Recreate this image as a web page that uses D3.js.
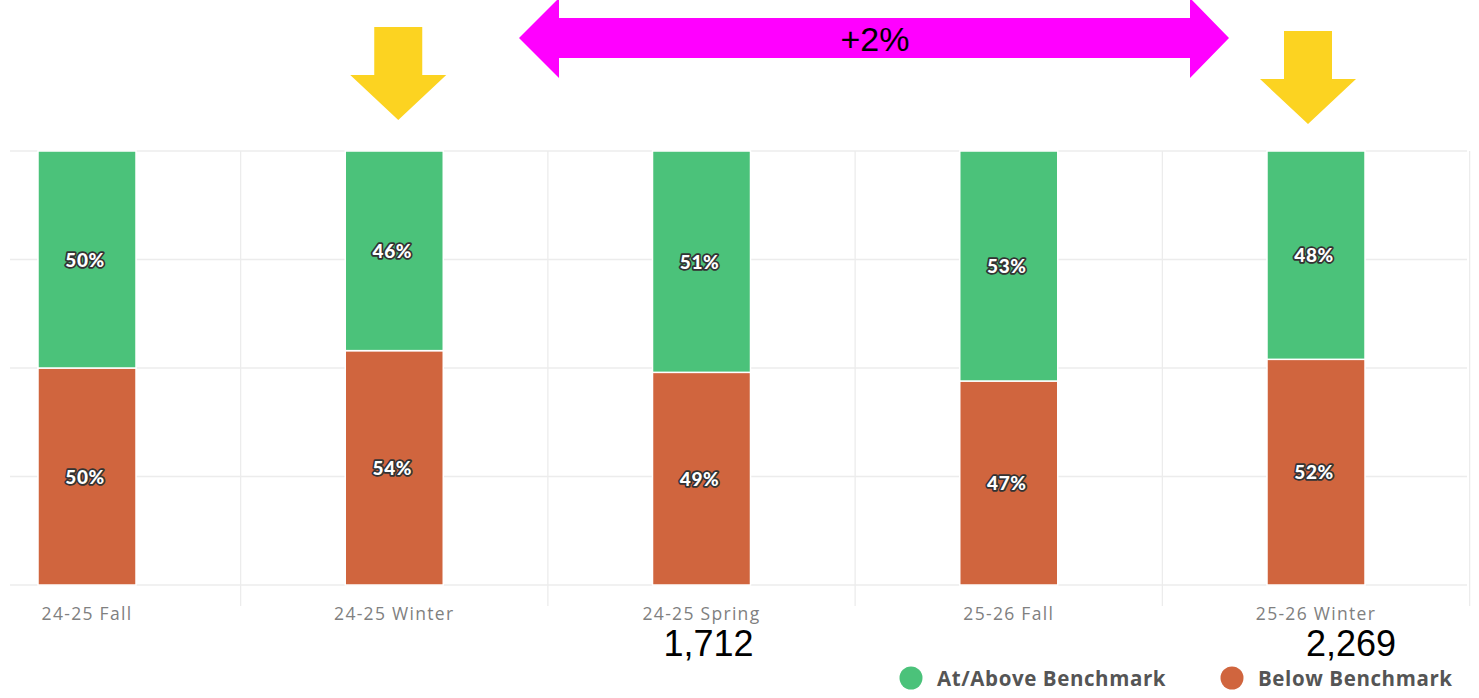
<html>
<head>
<meta charset="utf-8">
<title>Benchmark</title>
<style>
  body { margin: 0; background: #fff; }
  svg { display: block; }
</style>
</head>
<body>
<svg id="chart" width="1479" height="698"></svg>
<script src="https://cdnjs.cloudflare.com/ajax/libs/d3/7.8.5/d3.min.js"></script>
<script>
var categories = ["24-25 Fall", "24-25 Winter", "24-25 Spring", "25-26 Fall", "25-26 Winter"];
var aboveVals = [50, 46, 51, 53, 48];
var belowVals = [50, 54, 49, 47, 52];
var yTicks = [0, 25, 50, 75, 100];
var seriesNames = ["At/Above Benchmark", "Below Benchmark"];
var countLabels = [{cat: "24-25 Spring", text: "1,712", dx: 7}, {cat: "25-26 Winter", text: "2,269", dx: 35}];
var arrowCats = ["24-25 Winter", "25-26 Winter"];

var svg = d3.select("#chart");
var green = "#4bc27a", orange = "#d0653e";

var x = d3.scalePoint().domain(categories).range([87, 1316]);
var step = x.step();
var y = d3.scaleLinear().domain([0, 100]).range([585, 151]);
var barW = 98;

var rows = categories.map(function (c, i) { return {cat: c, below: belowVals[i], above: aboveVals[i]}; });
var stack = d3.stack().keys(["below", "above"])(rows);

// grid
var grid = svg.append("g");
grid.selectAll("line.h").data(yTicks).enter().append("line")
  .attr("x1", 10).attr("x2", 1467)
  .attr("y1", function (d) { return y(d); }).attr("y2", function (d) { return y(d); })
  .attr("stroke", "#ececec").attr("stroke-width", 1.3);
grid.selectAll("line.v").data(categories).enter().append("line")
  .attr("x1", function (d) { return x(d) + step / 2; })
  .attr("x2", function (d) { return x(d) + step / 2; })
  .attr("y1", y(100)).attr("y2", 606)
  .attr("stroke", "#ececec").attr("stroke-width", 1.3);

// bars
var colors = {below: orange, above: green};
stack.forEach(function (layer) {
  svg.append("g").selectAll("rect").data(layer).enter().append("rect")
    .attr("x", function (d) { return x(d.data.cat) - barW / 2; })
    .attr("width", barW)
    .attr("y", function (d) { return y(d[1]); })
    .attr("height", function (d) { return y(d[0]) - y(d[1]); })
    .attr("fill", colors[layer.key])
    .attr("stroke", "#fff").attr("stroke-width", 1.5);

  svg.append("g").selectAll("text").data(layer).enter().append("text")
    .attr("x", function (d) { return x(d.data.cat) - 2; })
    .attr("y", function (d) { return (y(d[0]) + y(d[1])) / 2 + 7; })
    .attr("text-anchor", "middle")
    .attr("font-family", "Lato, 'Open Sans', sans-serif")
    .attr("font-weight", "900").attr("font-size", 19)
    .attr("letter-spacing", 0.5)
    .attr("fill", "#fff").attr("stroke", "#333").attr("stroke-width", 3.5)
    .attr("paint-order", "stroke").attr("stroke-linejoin", "round")
    .text(function (d) { return d.data[layer.key] + "%"; });
});

// x axis labels
svg.append("g").selectAll("text").data(categories).enter().append("text")
  .attr("x", function (d) { return x(d); })
  .attr("y", 620)
  .attr("text-anchor", "middle")
  .attr("font-family", "'Open Sans', sans-serif")
  .attr("font-size", 17.5).attr("letter-spacing", 1.3).attr("fill", "#808080")
  .text(function (d) { return d; });

// counts
svg.append("g").selectAll("text").data(countLabels).enter().append("text")
  .attr("x", function (d) { return x(d.cat) + d.dx; })
  .attr("y", 656)
  .attr("text-anchor", "middle")
  .attr("font-family", "'Liberation Sans', Arial, sans-serif")
  .attr("font-size", 36).attr("fill", "#000")
  .text(function (d) { return d.text; });

// legend
var legend = svg.append("g");
var legX = [911, 1232];
seriesNames.forEach(function (name, i) {
  legend.append("circle").attr("cx", legX[i]).attr("cy", 678).attr("r", 11.5)
    .attr("fill", i === 0 ? green : orange);
  legend.append("text").attr("x", legX[i] + 26).attr("y", 686)
    .attr("font-family", "'Open Sans', sans-serif")
    .attr("font-weight", "700").attr("font-size", 20.5).attr("letter-spacing", 0.6).attr("fill", "#555")
    .text(name);
});

// yellow down arrows
var ay = [27, 31];
arrowCats.forEach(function (c, i) {
  var cx = x(c) + 4 - (i === 1 ? 12 : 0), top = ay[i];
  var pts = [[cx - 24, top], [cx + 24, top], [cx + 24, top + 48], [cx + 48, top + 48],
             [cx, top + 93], [cx - 48, top + 48], [cx - 24, top + 48]];
  svg.append("polygon").attr("points", pts.map(function (p) { return p.join(","); }).join(" "))
    .attr("fill", "#fcd321");
});

// magenta double arrow
var lx = 519, rx = 1229, my = 38;
var dbl = [[lx, my], [lx + 40, my - 40], [lx + 40, my - 20], [rx - 39, my - 20], [rx - 39, my - 40],
           [rx, my], [rx - 39, my + 40], [rx - 39, my + 20], [lx + 40, my + 20], [lx + 40, my + 40]];
svg.append("polygon").attr("points", dbl.map(function (p) { return p.join(","); }).join(" "))
  .attr("fill", "#ff00ff");
svg.append("text").attr("x", 875).attr("y", 51).attr("text-anchor", "middle")
  .attr("font-family", "'Liberation Sans', Arial, sans-serif")
  .attr("font-size", 34).attr("fill", "#000").text("+2%");
</script>
</body>
</html>
